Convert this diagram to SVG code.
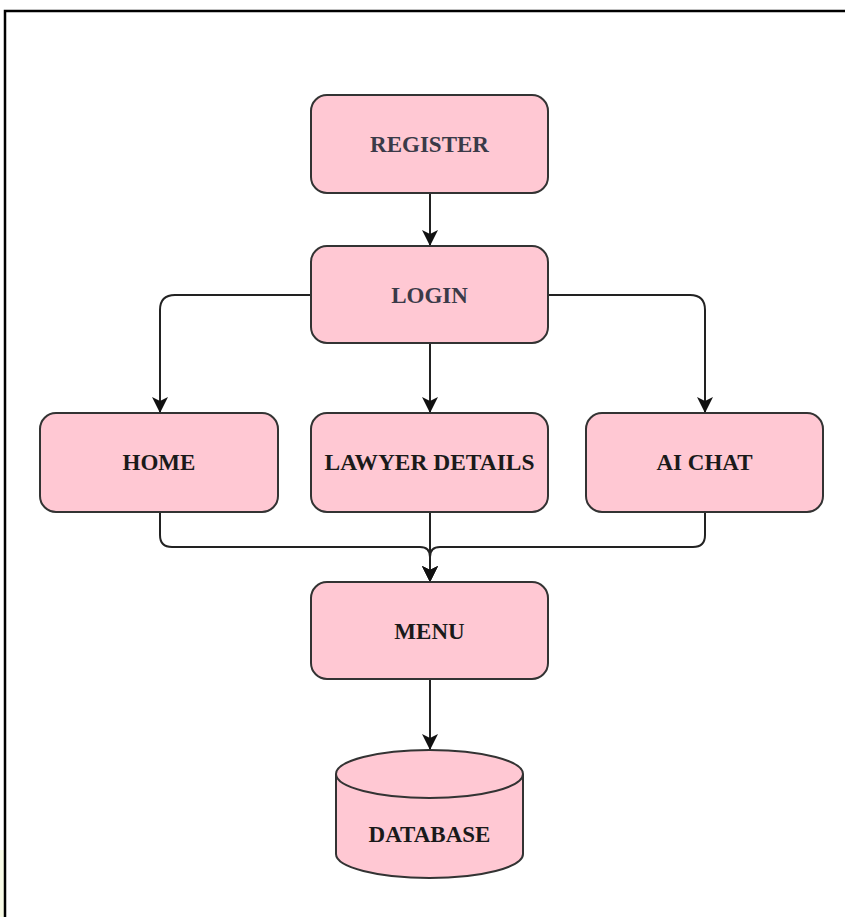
<svg xmlns="http://www.w3.org/2000/svg" width="845" height="917" viewBox="0 0 845 917">
<defs>
<style>
.box{fill:#ffc8d3;stroke:#333;stroke-width:2}
.lbl{font-family:"Liberation Serif","Times New Roman",serif;font-weight:bold;font-size:23px;text-anchor:middle;fill:#1a1a1a}
.lbl2{fill:#3a3a48}
.edge{fill:none;stroke:#222;stroke-width:2}
</style>
<marker id="arr" viewBox="0 0 16 16" refX="16" refY="8" markerWidth="16" markerHeight="16" markerUnits="userSpaceOnUse" orient="auto">
<path d="M0,0 L16,8 L0,16 L4,8 z" fill="#111"/>
</marker>
</defs>
<rect x="0" y="0" width="845" height="917" fill="#fff"/>
<rect x="0" y="850" width="4" height="67" fill="#f8fbe6"/>
<path d="M5,920 V11 H850" fill="none" stroke="#000" stroke-width="2.5"/>
<g id="connectors">
<path class="edge" d="M430,193 V246" marker-end="url(#arr)"/>
<path class="edge" d="M311,295 H175 Q160,295 160,310 V413" marker-end="url(#arr)"/>
<path class="edge" d="M430,343 V413" marker-end="url(#arr)"/>
<path class="edge" d="M548,295 H690 Q705,295 705,310 V413" marker-end="url(#arr)"/>
<path class="edge" d="M160,512 V535 Q160,547 172,547 H420 Q430,547 430,557 V582" marker-end="url(#arr)"/>
<path class="edge" d="M430,512 V582" marker-end="url(#arr)"/>
<path class="edge" d="M705,512 V535 Q705,547 693,547 H440 Q430,547 430,557 V582" marker-end="url(#arr)"/>
<path class="edge" d="M430,679 V750" marker-end="url(#arr)"/>
</g>
<g id="register">
<rect class="box" x="311" y="95" width="237" height="98" rx="16"/>
<text class="lbl lbl2" x="429.5" y="152">REGISTER</text>
</g>
<g id="login">
<rect class="box" x="311" y="246" width="237" height="97" rx="16"/>
<text class="lbl lbl2" x="429.5" y="303">LOGIN</text>
</g>
<g id="home">
<rect class="box" x="40" y="413" width="238" height="99" rx="16"/>
<text class="lbl" x="159" y="470">HOME</text>
</g>
<g id="lawyer-details">
<rect class="box" x="311" y="413" width="237" height="99" rx="16"/>
<text class="lbl" x="429.5" y="470" textLength="210" lengthAdjust="spacingAndGlyphs">LAWYER DETAILS</text>
</g>
<g id="ai-chat">
<rect class="box" x="586" y="413" width="237" height="99" rx="16"/>
<text class="lbl" x="704.5" y="470">AI CHAT</text>
</g>
<g id="menu">
<rect class="box" x="311" y="582" width="237" height="97" rx="16"/>
<text class="lbl" x="429.5" y="639">MENU</text>
</g>
<g id="database">
<path class="box" d="M336,774 A93.5,24 0 0 1 523,774 V854 A93.5,24 0 0 1 336,854 Z"/>
<path d="M336,774 A93.5,24 0 0 0 523,774" fill="none" stroke="#333" stroke-width="2"/>
<text class="lbl" x="429.5" y="842">DATABASE</text>
</g>
</svg>
